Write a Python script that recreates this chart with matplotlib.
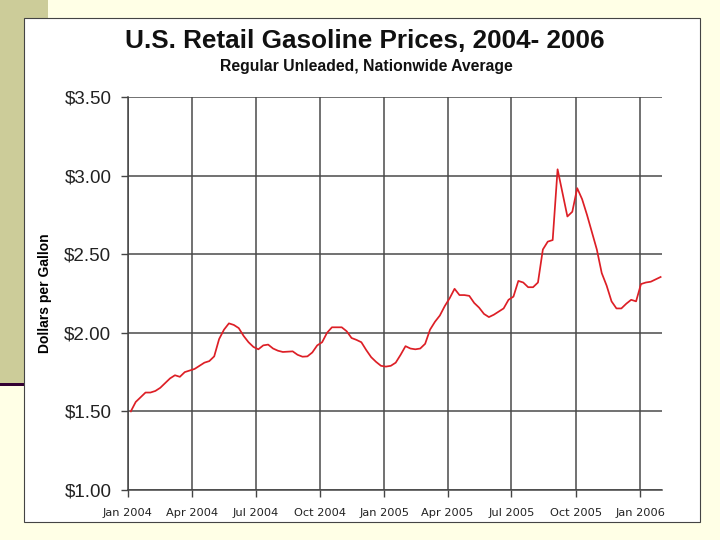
import numpy as np
import pandas as pd
import matplotlib
matplotlib.use("Agg")
import matplotlib.pyplot as plt
import matplotlib.dates as mdates
from matplotlib.patches import Rectangle

# weekly regular unleaded price (Mondays from Jan 5 2004)
prices = [
    1.50, 1.56, 1.59, 1.62, 1.62, 1.63, 1.65, 1.68, 1.71, 1.73,
    1.72, 1.75, 1.76, 1.77, 1.79, 1.81, 1.82, 1.85, 1.96, 2.02,
    2.06, 2.05, 2.03, 1.98, 1.94, 1.91, 1.895, 1.92, 1.925, 1.90,
    1.886, 1.878, 1.88, 1.882, 1.86, 1.848, 1.85, 1.875, 1.92, 1.94,
    2.00, 2.035, 2.035, 2.035, 2.01, 1.967, 1.955, 1.94, 1.89, 1.845,
    1.815, 1.79, 1.785, 1.79, 1.81, 1.86, 1.915, 1.90, 1.895, 1.90,
    1.93, 2.02, 2.07, 2.11, 2.17, 2.22, 2.28, 2.24, 2.24, 2.235,
    2.19, 2.16, 2.12, 2.10, 2.115, 2.135, 2.155, 2.21, 2.23, 2.33,
    2.32, 2.29, 2.29, 2.32, 2.53, 2.58, 2.59, 3.04, 2.89, 2.74,
    2.77, 2.92, 2.85, 2.75, 2.64, 2.53, 2.38, 2.30, 2.20, 2.155,
    2.155, 2.185, 2.21, 2.20, 2.31, 2.32, 2.325, 2.34, 2.355,
]
first_week = "2004-01-05"

tick_dates = ["2004-01-01", "2004-04-01", "2004-07-01", "2004-10-01",
              "2005-01-01", "2005-04-01", "2005-07-01", "2005-10-01",
              "2006-01-01"]
tick_labels = ["Jan 2004", "Apr 2004", "Jul 2004", "Oct 2004", "Jan 2005",
               "Apr 2005", "Jul 2005", "Oct 2005", "Jan 2006"]
y_ticks = [1.00, 1.50, 2.00, 2.50, 3.00, 3.50]

df = pd.DataFrame({"Datetime": pd.date_range(first_week, periods=len(prices), freq="W-MON"),
                   "Value": prices})

fig = plt.figure(figsize=(7.2, 5.4), dpi=100, facecolor="#ffffe6")

# slide decoration: khaki strip, dark bar, white chart box
fig.patches.append(Rectangle((0, 0.2907), 48 / 720, 0.7093, transform=fig.transFigure,
                             facecolor="#cccc99", edgecolor="none", zorder=0))
fig.patches.append(Rectangle((0, 1 - 386 / 540), 24 / 720, 3.5 / 540, transform=fig.transFigure,
                             facecolor="#330033", edgecolor="none", zorder=0))
fig.patches.append(Rectangle((24 / 720, 18 / 540), 676 / 720, 504 / 540, transform=fig.transFigure,
                             facecolor="white", edgecolor="#444444", linewidth=0.8, zorder=1))

ax = fig.add_axes([128 / 720, 1 - 490 / 540, (662 - 128) / 720, (490 - 97) / 540])
ax.set_zorder(3)
ax.set_facecolor("white")
ax.plot(df["Datetime"], df["Value"], color="#dd1f26", linewidth=1.25, zorder=3)

ax.set_ylim(1.0, 3.5)
ax.set_xlim(pd.Timestamp("2004-01-01"), pd.Timestamp("2006-02-01"))
ax.set_yticks(y_ticks)
ax.set_yticklabels(["${:.2f}".format(v) for v in y_ticks],
                   fontfamily="Liberation Sans", fontsize=13.5, color="#222222")
ax.set_xticks([pd.Timestamp(d) for d in tick_dates])
ax.set_xticklabels(tick_labels, fontfamily="DejaVu Sans", fontsize=8.2, color="#222222")
ax.tick_params(axis="y", length=5, width=1, color="#444444", pad=7)
ax.tick_params(axis="x", length=5, width=1, color="#444444", pad=8)

ax.grid(True, color="#4a4a4a", linewidth=1.1, zorder=1)
ax.set_axisbelow(True)
for side in ["top", "right"]:
    ax.spines[side].set_visible(False)
for side in ["left", "bottom"]:
    ax.spines[side].set_color("#444444")
    ax.spines[side].set_linewidth(1.1)

ax.set_ylabel("Dollars per Gallon", fontfamily="Liberation Sans", fontsize=10,
              fontweight="bold", color="black")
ax.yaxis.set_label_coords(-0.142, 0.5)

title = fig.text(365 / 720, 1 - 41 / 540, "U.S. Retail Gasoline Prices, 2004- 2006",
                 ha="center", va="center", fontfamily="Liberation Sans", fontsize=18.8,
                 fontweight="bold", color="#111111")
title.set_zorder(4)
sub = fig.text(366 / 720, 1 - 67 / 540, "Regular Unleaded, Nationwide Average",
               ha="center", va="center", fontfamily="Liberation Sans", fontsize=11.3,
               fontweight="bold", color="#111111")
sub.set_zorder(4)

fig.savefig("out.png", dpi=100, facecolor=fig.get_facecolor())
